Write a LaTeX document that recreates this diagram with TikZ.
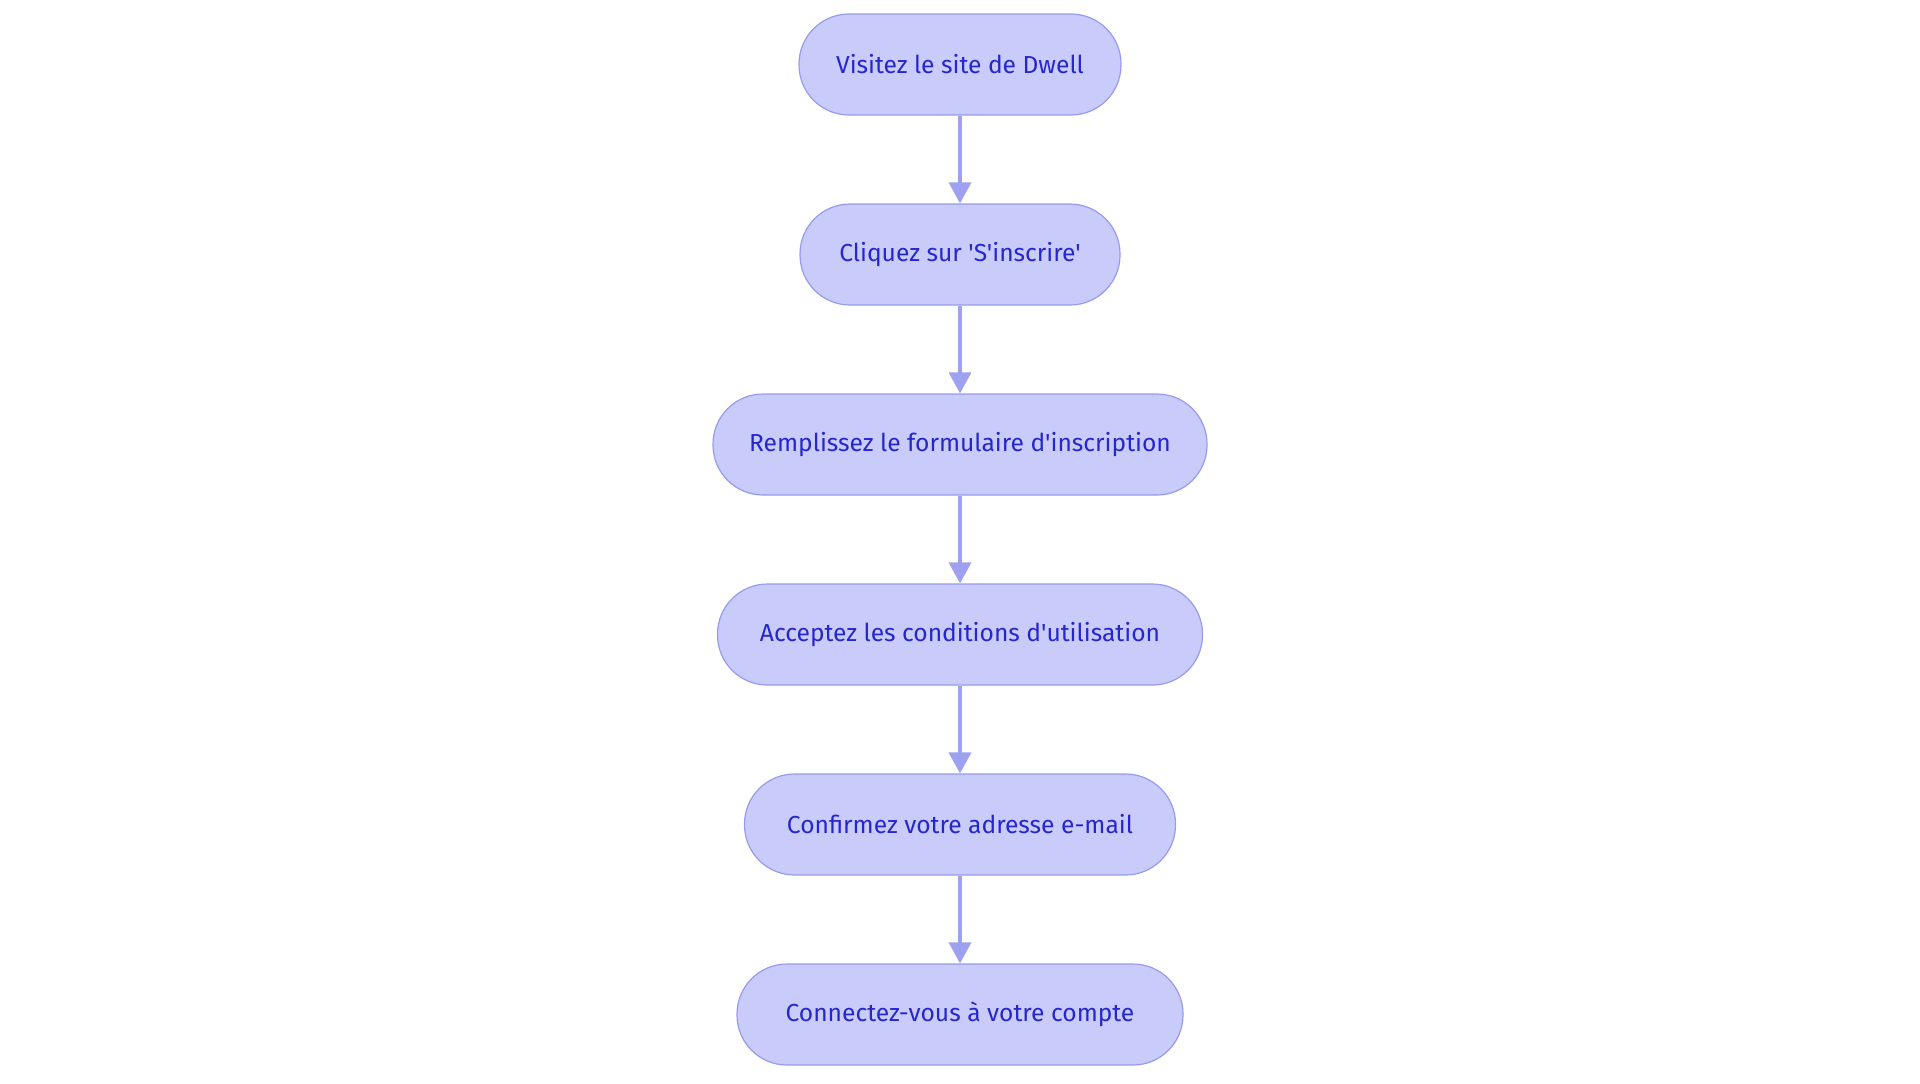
\documentclass[tikz,border=0pt]{standalone}
\usepackage{fontspec}
\setmainfont{Fira Sans}[Ligatures=TeXOff]
\usetikzlibrary{arrows.meta}
\definecolor{stepfill}{RGB}{201,203,251}
\definecolor{stepline}{RGB}{150,155,240}
\definecolor{steptext}{RGB}{38,38,205}
\definecolor{flowline}{RGB}{157,161,240}
\begin{document}
\begin{tikzpicture}[
    stepbox/.style={draw=stepline, fill=stepfill, line width=0.6pt, rounded corners=25pt,
      minimum height=50.5pt, inner sep=0pt, text=steptext, font=\fontsize{12.3}{15}\selectfont},
    flow/.style={->, >={Triangle[length=10.5pt,width=11pt]}, flowline, line width=1.8pt}]
      \useasboundingbox (0,0) rectangle (960pt,-541.5pt);
      \node[stepbox, minimum width=161pt] (visit) at (480pt,-32.25pt) {Visitez le site de Dwell};
      \node[stepbox, minimum width=160pt] (click) at (480pt,-127.25pt) {Cliquez sur 'S'inscrire'};
      \node[stepbox, minimum width=247pt] (form) at (480pt,-222.25pt) {Remplissez le formulaire d'inscription};
      \node[stepbox, minimum width=242.5pt] (terms) at (480pt,-317.25pt) {Acceptez les conditions d'utilisation};
      \node[stepbox, minimum width=215.5pt] (mail) at (480pt,-412.25pt) {Confirmez votre adresse e-mail};
      \node[stepbox, minimum width=223pt] (login) at (480pt,-507.25pt) {Connectez-vous à votre compte};
      \draw[flow] (visit) -- (click);
      \draw[flow] (click) -- (form);
      \draw[flow] (form) -- (terms);
      \draw[flow] (terms) -- (mail);
      \draw[flow] (mail) -- (login);
\end{tikzpicture}
\end{document}
